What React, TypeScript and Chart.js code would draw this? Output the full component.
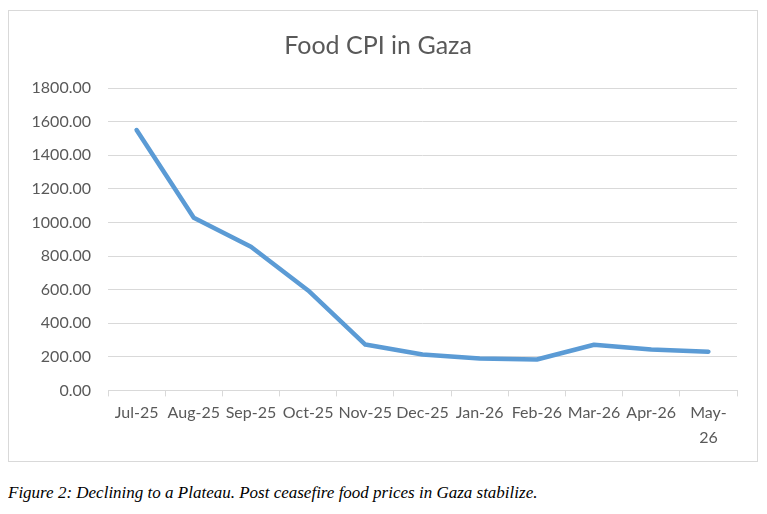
import React, { useEffect, useRef } from "react";
import { Chart, registerables } from "chart.js";

Chart.register(...registerables);

const categories: (string | string[])[] = [
  "Jul-25", "Aug-25", "Sep-25", "Oct-25", "Nov-25", "Dec-25",
  "Jan-26", "Feb-26", "Mar-26", "Apr-26", ["May-", "26"],
];
const foodCpi = [1550, 1028, 855, 595, 273, 214, 190, 184, 272, 243, 230];
const yTicks = [0, 200, 400, 600, 800, 1000, 1200, 1400, 1600, 1800];
const titleText = "Food CPI in Gaza";
const captionText =
  "Figure 2: Declining to a Plateau. Post ceasefire food prices in Gaza stabilize.";

const FONT = "Lato, 'Open Sans', sans-serif";
const TEXT = "#595959";
const GRID = "#d9d9d9";

export default function App() {
  const ref = useRef<HTMLCanvasElement | null>(null);
  useEffect(() => {
    if (!ref.current) return;
    const chart = new Chart(ref.current, {
      type: "line",
      data: {
        labels: categories,
        datasets: [
          {
            label: "Food CPI",
            data: foodCpi,
            borderColor: "#5b9bd5",
            backgroundColor: "#5b9bd5",
            borderWidth: 4.5,
            pointRadius: 0,
            tension: 0,
            borderCapStyle: "round",
            borderJoinStyle: "round",
          },
        ],
      },
      options: {
        animation: false,
        responsive: false,
        maintainAspectRatio: false,
        layout: { padding: { left: 10, right: 20, top: 0, bottom: 7 } },
        plugins: {
          legend: { display: false },
          tooltip: { enabled: false },
          title: {
            display: true,
            text: titleText,
            color: TEXT,
            font: { family: FONT, size: 25, weight: "normal" },
            padding: { top: 20, bottom: 27 },
          },
        },
        scales: {
          x: {
            offset: true,
            grid: {
              offset: true,
              drawOnChartArea: false,
              drawTicks: true,
              tickLength: 6,
              color: GRID,
            },
            border: { display: true, color: GRID, width: 1 },
            ticks: {
              color: TEXT,
              font: { family: FONT, size: 16, lineHeight: 1.55 },
              maxRotation: 0,
              minRotation: 0,
              autoSkip: false,
              padding: 4,
            },
          },
          y: {
            min: 0,
            max: 1800,
            afterBuildTicks: (scale: any) => {
              scale.ticks = yTicks.map((v) => ({ value: v }));
            },
            afterFit: (scale: any) => {
              scale.width = 89;
            },
            grid: { color: GRID, lineWidth: 1, drawTicks: false },
            border: { display: false },
            ticks: {
              color: TEXT,
              font: { family: FONT, size: 16 },
              padding: 17,
              callback: (v: any) => Number(v).toFixed(2),
            },
          },
        },
      },
    });
    return () => chart.destroy();
  }, []);

  return (
    <div>
      <div
        style={{
          marginTop: 2,
          width: 748,
          height: 450,
          border: "1px solid #d9d9d9",
          background: "#fff",
        }}
      >
        <canvas ref={ref} width={748} height={450} style={{ display: "block" }} />
      </div>
      <div
        style={{
          marginTop: 21,
          fontFamily: "'Liberation Serif', 'Times New Roman', serif",
          fontStyle: "italic",
          fontSize: 17,
          color: "#000",
        }}
      >
        {captionText}
      </div>
    </div>
  );
}
